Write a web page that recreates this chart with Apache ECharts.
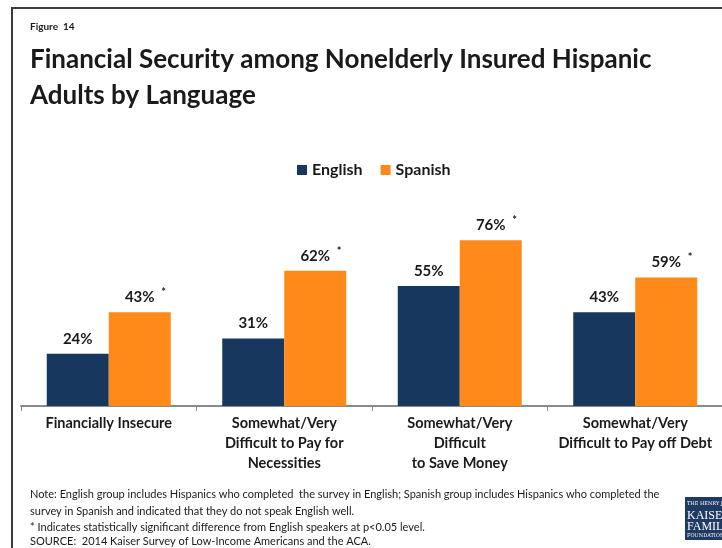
<!DOCTYPE html>
<html>
<head>
<meta charset="utf-8">
<script src="https://cdn.jsdelivr.net/npm/echarts@6/dist/echarts.min.js"></script>
<style>
  html, body { margin: 0; padding: 0; background: #ffffff; }
  #chart { width: 722px; height: 548px; }
</style>
</head>
<body>
<div id="chart"></div>
<script>
// Survey categories and shares (%) by interview language
const categories = [
  'Financially Insecure',
  'Somewhat/Very\nDifficult to Pay for\nNecessities',
  'Somewhat/Very\nDifficult\nto Save Money',
  'Somewhat/Very\nDifficult to Pay off Debt'
];
const englishValues = [24, 31, 55, 43];
const spanishValues = [43, 62, 76, 59];
// Spanish values that differ significantly from English speakers
const spanishSignificant = [true, true, true, true];
const seriesNames = ['English', 'Spanish'];

const FONT = 'Lato, "Open Sans", sans-serif';
const NAVY = '#17375E';
const ORANGE = '#FF8A1A';
const INK = '#1a1a1a';

const chart = echarts.init(document.getElementById('chart'), null, { renderer: 'canvas' });

const noteLines = [
  'Note: English group includes Hispanics who completed  the survey in English; Spanish group includes Hispanics who completed the',
  'survey in Spanish and indicated that they do not speak English well.',
  '* Indicates statistically significant difference from English speakers at p<0.05 level.',
  'SOURCE:  2014 Kaiser Survey of Low-Income Americans and the ACA.'
];
const noteY = [494, 511, 527, 541];

const valueRich = {
  p: { width: 18 },
  v: { fontFamily: FONT, fontSize: 15, fontWeight: 'bold', color: INK, lineHeight: 20 },
  s: { fontFamily: FONT, fontSize: 11, fontWeight: 'bold', color: INK, width: 18, align: 'center',
       lineHeight: 12, verticalAlign: 'top' }
};

const option = {
  backgroundColor: '#ffffff',
  animation: false,
  title: {
    text: 'Financial Security among Nonelderly Insured Hispanic\nAdults by Language',
    left: 30,
    top: 42,
    padding: 0,
    textStyle: {
      fontFamily: FONT,
      fontSize: 26,
      fontWeight: 'bold',
      color: INK,
      lineHeight: 36
    }
  },
  legend: {
    data: seriesNames,
    left: 297,
    top: 162,
    padding: 0,
    icon: 'rect',
    itemWidth: 10,
    itemHeight: 10,
    itemGap: 18,
    textStyle: { fontFamily: FONT, fontSize: 16, fontWeight: 'bold', color: INK }
  },
  grid: {
    left: 21,
    top: 188,
    width: 702,
    height: 218,
    containLabel: false,
    outerBoundsMode: 'none'
  },
  xAxis: {
    type: 'category',
    data: categories,
    axisLine: { show: true, lineStyle: { color: '#8a8a8a', width: 2 } },
    axisTick: { show: true, alignWithLabel: false, length: 5, lineStyle: { color: '#8a8a8a', width: 1 } },
    axisLabel: {
      interval: 0,
      margin: 7,
      fontFamily: FONT,
      fontSize: 14.5,
      fontWeight: 'bold',
      color: INK,
      lineHeight: 20,
      align: 'center'
    }
  },
  yAxis: {
    type: 'value',
    min: 0,
    max: 100,
    show: false,
    splitLine: { show: false }
  },
  series: [
    {
      name: seriesNames[0],
      type: 'bar',
      data: englishValues,
      barWidth: 62,
      barGap: '0%',
      itemStyle: { color: NAVY },
      label: {
        show: true,
        position: 'top',
        distance: 5,
        formatter: p => '{v|' + p.value + '%}',
        rich: valueRich
      }
    },
    {
      name: seriesNames[1],
      type: 'bar',
      data: spanishValues,
      barWidth: 62,
      barGap: '0%',
      itemStyle: { color: ORANGE },
      label: {
        show: true,
        position: 'top',
        distance: 5,
        formatter: p => spanishSignificant[p.dataIndex]
          ? '{p|}{v|' + p.value + '%}{s|*}'
          : '{v|' + p.value + '%}',
        rich: valueRich
      }
    }
  ],
  graphic: [
    // outer frame
    {
      type: 'rect',
      shape: { x: 12, y: 8, width: 760, height: 600 },
      style: { fill: 'none', stroke: '#3c3c3c', lineWidth: 2 },
      silent: true
    },
    {
      type: 'text',
      left: 30,
      top: 22,
      style: { text: 'Figure  14', font: 'bold 10px ' + FONT, fill: INK }
    },
    ...noteLines.map((t, i) => ({
      type: 'text',
      x: 30,
      y: noteY[i],
      style: { text: t, font: '11px ' + FONT, fill: INK, textVerticalAlign: 'middle' }
    })),
    // foundation logo block
    {
      type: 'group',
      x: 685,
      y: 497,
      children: [
        { type: 'rect', shape: { x: 0, y: 0, width: 45, height: 43 }, style: { fill: '#1F3A64' } },
        { type: 'text', x: 2, y: 7, style: { text: 'THE HENRY J.', font: '5px "DejaVu Serif", serif', fill: '#ffffff', textVerticalAlign: 'middle' } },
        { type: 'text', x: 2, y: 19, style: { text: 'KAISER', font: '12px "Liberation Serif", serif', fill: '#ffffff', textVerticalAlign: 'middle' } },
        { type: 'text', x: 2, y: 30, style: { text: 'FAMILY', font: '12px "Liberation Serif", serif', fill: '#ffffff', textVerticalAlign: 'middle' } },
        { type: 'text', x: 2, y: 39, style: { text: 'FOUNDATION', font: '5px "DejaVu Serif", serif', fill: '#ffffff', textVerticalAlign: 'middle' } }
      ]
    }
  ]
};

chart.setOption(option);
</script>
</body>
</html>
